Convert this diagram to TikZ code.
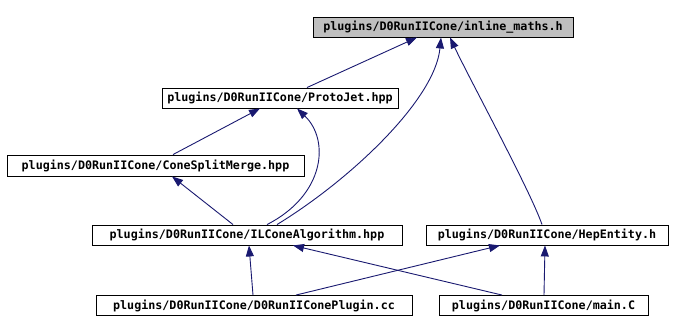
\documentclass[tikz,border=0pt]{standalone}
\usepackage{fontspec}
\setmonofont{DejaVu Sans Mono}
\usetikzlibrary{arrows.meta}
\definecolor{edgeblue}{HTML}{191970}
\definecolor{nodegray}{HTML}{BFBFBF}
\begin{document}
\begin{tikzpicture}[x=1pt,y=-1pt,
  filebox/.style={draw=black,line width=0.9pt,fill=white,rectangle,inner sep=0pt,
    minimum height=20pt,font=\ttfamily\bfseries\fontsize{11.7}{13}\selectfont},
  dep/.style={draw=edgeblue,line width=0.9pt,-{Triangle[length=11pt,width=8pt]}}]
\useasboundingbox (0,0) rectangle (673,332);
\node[filebox,fill=nodegray,minimum width=260pt] (inl) at (443,27) {plugins/D0RunIICone/inline\_maths.h};
\node[filebox,minimum width=236pt] (pj) at (280,98) {plugins/D0RunIICone/ProtoJet.hpp};
\node[filebox,minimum width=297pt,minimum height=21pt] (csm) at (155.5,165.5) {plugins/D0RunIICone/ConeSplitMerge.hpp};
\node[filebox,minimum width=310pt] (ilc) at (247,235) {plugins/D0RunIICone/ILConeAlgorithm.hpp};
\node[filebox,minimum width=242pt] (hep) at (547,235) {plugins/D0RunIICone/HepEntity.h};
\node[filebox,minimum width=316pt] (plg) at (254,305.5) {plugins/D0RunIICone/D0RunIIConePlugin.cc};
\node[filebox,minimum width=209pt] (mc) at (543.5,305.5) {plugins/D0RunIICone/main.C};

\draw[dep] ([xshift=27pt]pj.north) -- ([xshift=-26pt]inl.south);
\draw[dep] ([xshift=17.5pt]csm.north) -- ([xshift=-20pt]pj.south);
\draw[dep] ([xshift=-14pt]ilc.north) -- ([xshift=16.5pt]csm.south);
\draw[dep] ([xshift=20pt]ilc.north) .. controls (325,195) and (330,140) .. ([xshift=17pt]pj.south);
\draw[dep] ([xshift=30pt]ilc.north) .. controls (350,180) and (435,100) .. ([xshift=-2pt]inl.south);
\draw[dep] ([xshift=-5pt]hep.north) .. controls (530,190) and (470,80) .. ([xshift=7pt]inl.south);
\draw[dep] ([xshift=-1pt]plg.north) -- ([xshift=2pt]ilc.south);
\draw[dep] ([xshift=42pt]plg.north) -- ([xshift=-47pt]hep.south);
\draw[dep] ([xshift=-41.5pt]mc.north) -- ([xshift=46pt]ilc.south);
\draw[dep] ([xshift=0.5pt]mc.north) -- ([xshift=-2pt]hep.south);
\end{tikzpicture}
\end{document}
